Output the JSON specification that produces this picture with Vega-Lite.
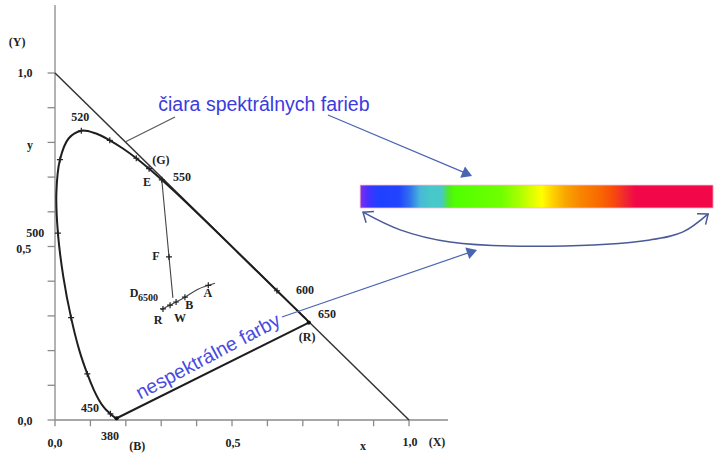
{
  "$schema": "https://vega.github.io/schema/vega-lite/v6.json",
  "width": 720,
  "height": 453,
  "autosize": {"type": "fit", "contains": "padding"},
  "padding": 0,
  "background": "white",
  "config": {"view": {"stroke": null}},
  "datasets": {
    "axisLines": [
      {"x": 0, "y": 0, "x2": 0, "y2": 1.196},
      {"x": 0, "y": 0, "x2": 1.11, "y2": 0},
      {"x": -0.021, "y": 0.1, "x2": 0, "y2": 0.1},
      {"x": -0.021, "y": 0.2, "x2": 0, "y2": 0.2},
      {"x": -0.021, "y": 0.3, "x2": 0, "y2": 0.3},
      {"x": -0.021, "y": 0.4, "x2": 0, "y2": 0.4},
      {"x": -0.021, "y": 0.5, "x2": 0, "y2": 0.5},
      {"x": -0.021, "y": 0.6, "x2": 0, "y2": 0.6},
      {"x": -0.021, "y": 0.7, "x2": 0, "y2": 0.7},
      {"x": -0.021, "y": 0.8, "x2": 0, "y2": 0.8},
      {"x": -0.021, "y": 0.9, "x2": 0, "y2": 0.9},
      {"x": -0.021, "y": 1.0, "x2": 0, "y2": 1.0},
      {"x": -0.021, "y": 0, "x2": 0, "y2": 0},
      {"x": 0, "y": 0, "x2": 0, "y2": -0.018},
      {"x": 0.1, "y": 0, "x2": 0.1, "y2": -0.018},
      {"x": 0.2, "y": 0, "x2": 0.2, "y2": -0.018},
      {"x": 0.3, "y": 0, "x2": 0.3, "y2": -0.018},
      {"x": 0.4, "y": 0, "x2": 0.4, "y2": -0.018},
      {"x": 0.5, "y": 0, "x2": 0.5, "y2": -0.018},
      {"x": 0.6, "y": 0, "x2": 0.6, "y2": -0.018},
      {"x": 0.7, "y": 0, "x2": 0.7, "y2": -0.018},
      {"x": 0.8, "y": 0, "x2": 0.8, "y2": -0.018},
      {"x": 0.9, "y": 0, "x2": 0.9, "y2": -0.018},
      {"x": 1.0, "y": 0, "x2": 1.0, "y2": -0.018}
    ],
    "locus": [
      {"nm": 380, "x": 0.1741, "y": 0.0050},
      {"nm": 400, "x": 0.1733, "y": 0.0048},
      {"nm": 420, "x": 0.1714, "y": 0.0051},
      {"nm": 430, "x": 0.1689, "y": 0.0069},
      {"nm": 440, "x": 0.1644, "y": 0.0109},
      {"nm": 450, "x": 0.1566, "y": 0.0177},
      {"nm": 460, "x": 0.1440, "y": 0.0297},
      {"nm": 465, "x": 0.1355, "y": 0.0399},
      {"nm": 470, "x": 0.1241, "y": 0.0578},
      {"nm": 475, "x": 0.1096, "y": 0.0868},
      {"nm": 480, "x": 0.0913, "y": 0.1327},
      {"nm": 485, "x": 0.0687, "y": 0.2007},
      {"nm": 490, "x": 0.0454, "y": 0.2950},
      {"nm": 495, "x": 0.0235, "y": 0.4127},
      {"nm": 500, "x": 0.0082, "y": 0.5384},
      {"nm": 505, "x": 0.0039, "y": 0.6548},
      {"nm": 510, "x": 0.0139, "y": 0.7502},
      {"nm": 515, "x": 0.0389, "y": 0.8120},
      {"nm": 520, "x": 0.0743, "y": 0.8338},
      {"nm": 525, "x": 0.1142, "y": 0.8262},
      {"nm": 530, "x": 0.1547, "y": 0.8059},
      {"nm": 535, "x": 0.1929, "y": 0.7816},
      {"nm": 540, "x": 0.2296, "y": 0.7543},
      {"nm": 545, "x": 0.2658, "y": 0.7243},
      {"nm": 550, "x": 0.3016, "y": 0.6923},
      {"nm": 555, "x": 0.3373, "y": 0.6589},
      {"nm": 560, "x": 0.3731, "y": 0.6245},
      {"nm": 570, "x": 0.4441, "y": 0.5547},
      {"nm": 580, "x": 0.5125, "y": 0.4866},
      {"nm": 590, "x": 0.5752, "y": 0.4242},
      {"nm": 600, "x": 0.6270, "y": 0.3725},
      {"nm": 610, "x": 0.6658, "y": 0.3340},
      {"nm": 620, "x": 0.6915, "y": 0.3083},
      {"nm": 630, "x": 0.7079, "y": 0.2920},
      {"nm": 640, "x": 0.7170, "y": 0.2809}
    ],
    "diag": [{"k": 0, "x": 0, "y": 1}, {"k": 1, "x": 1, "y": 0}],
    "purple": [{"k": 0, "x": 0.1741, "y": 0.005}, {"k": 1, "x": 0.717, "y": 0.2809}],
    "efd": [{"k": 0, "x": 0.3016, "y": 0.6923}, {"k": 1, "x": 0.322, "y": 0.47}, {"k": 2, "x": 0.333, "y": 0.352}],
    "planck": [
      {"k": 0, "x": 0.300, "y": 0.318},
      {"k": 1, "x": 0.325, "y": 0.331},
      {"k": 2, "x": 0.342, "y": 0.340},
      {"k": 3, "x": 0.367, "y": 0.354},
      {"k": 4, "x": 0.404, "y": 0.377},
      {"k": 5, "x": 0.452, "y": 0.394}
    ],
    "plus": [
      {"x": 0.1566, "y": 0.0177}, {"x": 0.0913, "y": 0.1327}, {"x": 0.0454, "y": 0.2950},
      {"x": 0.0082, "y": 0.5384}, {"x": 0.0139, "y": 0.7502}, {"x": 0.0743, "y": 0.8338},
      {"x": 0.1547, "y": 0.8059}, {"x": 0.2296, "y": 0.7543}, {"x": 0.2658, "y": 0.7243},
      {"x": 0.3016, "y": 0.6923}, {"x": 0.6270, "y": 0.3725},
      {"x": 0.322, "y": 0.47},
      {"x": 0.305, "y": 0.320}, {"x": 0.325, "y": 0.331}, {"x": 0.342, "y": 0.340},
      {"x": 0.367, "y": 0.354}, {"x": 0.433, "y": 0.388}
    ],
    "dots": [{"x": 0.717, "y": 0.2809}, {"x": 0.1741, "y": 0.005}],
    "pointer": [{"k": 0, "x": 0.198, "y": 0.801}, {"k": 1, "x": 0.339, "y": 0.873}],
    "arrows": [
      {"id": "a1", "k": 0, "x": 0.771, "y": 0.879},
      {"id": "a1", "k": 1, "x": 1.175, "y": 0.705},
      {"id": "a2", "k": 0, "x": 0.641, "y": 0.297},
      {"id": "a2", "k": 1, "x": 1.188, "y": 0.489}
    ],
    "head1": [{"x": 1.178, "y": 0.703}],
    "head2": [{"x": 1.192, "y": 0.490}],
    "curve": [
      {"k": 0, "x": 0.870, "y": 0.599},
      {"k": 1, "x": 0.975, "y": 0.548},
      {"k": 2, "x": 1.116, "y": 0.513},
      {"k": 3, "x": 1.398, "y": 0.501},
      {"k": 4, "x": 1.681, "y": 0.519},
      {"k": 5, "x": 1.774, "y": 0.542},
      {"k": 6, "x": 1.845, "y": 0.594}
    ],
    "chevL": [{"x": 0.870, "y": 0.599}],
    "chevR": [{"x": 1.845, "y": 0.594}],
    "bar": [{"x": 0.862, "x2": 1.859, "y": 0.677, "y2": 0.611}],
    "labels": [
      {"x": -0.107, "y": 1.089, "t": "(Y)"},
      {"x": -0.085, "y": 1.0, "t": "1,0"},
      {"x": -0.071, "y": 0.793, "t": "y"},
      {"x": -0.056, "y": 0.539, "t": "500"},
      {"x": -0.088, "y": 0.493, "t": "0,5"},
      {"x": -0.085, "y": -0.003, "t": "0,0"},
      {"x": 0.099, "y": 0.035, "t": "450"},
      {"x": 0.155, "y": -0.046, "t": "380"},
      {"x": 0.0, "y": -0.066, "t": "0,0"},
      {"x": 0.232, "y": -0.075, "t": "(B)"},
      {"x": 0.503, "y": -0.066, "t": "0,5"},
      {"x": 0.870, "y": -0.075, "t": "x"},
      {"x": 1.003, "y": -0.063, "t": "1,0"},
      {"x": 1.079, "y": -0.063, "t": "(X)"},
      {"x": 0.071, "y": 0.873, "t": "520"},
      {"x": 0.299, "y": 0.749, "t": "(G)"},
      {"x": 0.260, "y": 0.686, "t": "E"},
      {"x": 0.359, "y": 0.700, "t": "550"},
      {"x": 0.285, "y": 0.473, "t": "F"},
      {"x": 0.223, "y": 0.366, "t": "D"},
      {"x": 0.432, "y": 0.366, "t": "A"},
      {"x": 0.291, "y": 0.288, "t": "R"},
      {"x": 0.353, "y": 0.294, "t": "W"},
      {"x": 0.379, "y": 0.331, "t": "B"},
      {"x": 0.706, "y": 0.375, "t": "600"},
      {"x": 0.768, "y": 0.305, "t": "650"},
      {"x": 0.712, "y": 0.239, "t": "(R)"}
    ],
    "sub": [{"x": 0.263, "y": 0.352, "t": "6500"}],
    "blue1": [{"x": 0.590, "y": 0.908, "t": "čiara spektrálnych farieb"}],
    "blue2": [{"x": 0.433, "y": 0.182, "t": "nespektrálne farby"}]
  },
  "encoding": {
    "x": {"field": "x", "type": "quantitative", "axis": null, "scale": {"domain": [-0.1554, 1.8785], "nice": false, "zero": false}},
    "y": {"field": "y", "type": "quantitative", "axis": null, "scale": {"domain": [-0.0951, 1.2104], "nice": false, "zero": false}}
  },
  "layer": [
    {
      "data": {"name": "bar"},
      "mark": {"type": "rect", "stroke": "#f4b8c8", "strokeWidth": 0.8,
        "color": {"gradient": "linear", "x1": 0, "x2": 1, "y1": 0, "y2": 0, "stops": [
          {"offset": 0, "color": "#8a2be8"},
          {"offset": 0.02, "color": "#4a30ff"},
          {"offset": 0.05, "color": "#2040ff"},
          {"offset": 0.11, "color": "#2244ff"},
          {"offset": 0.14, "color": "#3070f0"},
          {"offset": 0.17, "color": "#48b8d8"},
          {"offset": 0.2, "color": "#48c8c8"},
          {"offset": 0.23, "color": "#48c8c8"},
          {"offset": 0.25, "color": "#50e828"},
          {"offset": 0.27, "color": "#50ff00"},
          {"offset": 0.4, "color": "#70ff00"},
          {"offset": 0.45, "color": "#a8ff00"},
          {"offset": 0.5, "color": "#eeff00"},
          {"offset": 0.515, "color": "#ffff00"},
          {"offset": 0.54, "color": "#ffd800"},
          {"offset": 0.58, "color": "#f8a800"},
          {"offset": 0.62, "color": "#f88800"},
          {"offset": 0.68, "color": "#f86800"},
          {"offset": 0.72, "color": "#f84810"},
          {"offset": 0.75, "color": "#f02830"},
          {"offset": 0.78, "color": "#f20848"},
          {"offset": 1, "color": "#f20848"}
        ]}},
      "encoding": {"x2": {"field": "x2"}, "y2": {"field": "y2"}}
    },
    {
      "data": {"name": "axisLines"},
      "mark": {"type": "rule", "color": "#8a8a8a", "strokeWidth": 1.3},
      "encoding": {"x2": {"field": "x2"}, "y2": {"field": "y2"}}
    },
    {
      "data": {"name": "diag"},
      "mark": {"type": "line", "color": "#333333", "strokeWidth": 1.5},
      "encoding": {"order": {"field": "k"}}
    },
    {
      "data": {"name": "pointer"},
      "mark": {"type": "line", "color": "#555555", "strokeWidth": 1.1},
      "encoding": {"order": {"field": "k"}}
    },
    {
      "data": {"name": "locus"},
      "mark": {"type": "line", "color": "#1e1e1e", "strokeWidth": 2, "interpolate": "catmull-rom"},
      "encoding": {"order": {"field": "nm"}}
    },
    {
      "data": {"name": "purple"},
      "mark": {"type": "line", "color": "#1e1e1e", "strokeWidth": 2},
      "encoding": {"order": {"field": "k"}}
    },
    {
      "data": {"name": "efd"},
      "mark": {"type": "line", "color": "#444444", "strokeWidth": 1.1},
      "encoding": {"order": {"field": "k"}}
    },
    {
      "data": {"name": "planck"},
      "mark": {"type": "line", "color": "#444444", "strokeWidth": 1.1, "interpolate": "catmull-rom"},
      "encoding": {"order": {"field": "k"}}
    },
    {
      "data": {"name": "plus"},
      "mark": {"type": "point", "shape": "M-1,0L1,0M0,-1L0,1", "size": 36, "filled": false, "stroke": "#222222", "strokeWidth": 1.2, "opacity": 1}
    },
    {
      "data": {"name": "dots"},
      "mark": {"type": "point", "shape": "circle", "size": 18, "filled": true, "color": "#111111", "opacity": 1}
    },
    {
      "data": {"name": "arrows"},
      "mark": {"type": "line", "color": "#4a64b4", "strokeWidth": 1.2},
      "encoding": {"detail": {"field": "id"}, "order": {"field": "k"}}
    },
    {
      "data": {"name": "head1"},
      "mark": {"type": "point", "shape": "M0,0L-1,-0.6L-1,0.6Z", "size": 420, "filled": true, "color": "#4a64b4", "opacity": 1, "angle": 23}
    },
    {
      "data": {"name": "head2"},
      "mark": {"type": "point", "shape": "M0,0L-1,-0.6L-1,0.6Z", "size": 420, "filled": true, "color": "#4a64b4", "opacity": 1, "angle": 341}
    },
    {
      "data": {"name": "curve"},
      "mark": {"type": "line", "color": "#4a5a98", "strokeWidth": 1.5, "interpolate": "catmull-rom"},
      "encoding": {"order": {"field": "k"}}
    },
    {
      "data": {"name": "chevL"},
      "mark": {"type": "point", "shape": "M-1,-0.8L0,0L-1,0.8", "size": 300, "filled": false, "stroke": "#4a5a98", "strokeWidth": 1.5, "opacity": 1, "angle": 215}
    },
    {
      "data": {"name": "chevR"},
      "mark": {"type": "point", "shape": "M-1,-0.8L0,0L-1,0.8", "size": 300, "filled": false, "stroke": "#4a5a98", "strokeWidth": 1.5, "opacity": 1, "angle": 322}
    },
    {
      "data": {"name": "labels"},
      "mark": {"type": "text", "font": "Liberation Serif", "fontSize": 12, "fontWeight": "bold", "color": "#222222", "align": "center", "baseline": "middle"},
      "encoding": {"text": {"field": "t"}}
    },
    {
      "data": {"name": "sub"},
      "mark": {"type": "text", "font": "Liberation Serif", "fontSize": 10, "fontWeight": "bold", "color": "#222222", "align": "center", "baseline": "middle"},
      "encoding": {"text": {"field": "t"}}
    },
    {
      "data": {"name": "blue1"},
      "mark": {"type": "text", "font": "Liberation Sans", "fontSize": 19.5, "color": "#3b3be0", "align": "center", "baseline": "middle"},
      "encoding": {"text": {"field": "t"}}
    },
    {
      "data": {"name": "blue2"},
      "mark": {"type": "text", "font": "Liberation Sans", "fontSize": 19.5, "color": "#4a4ae0", "align": "center", "baseline": "middle", "angle": 332},
      "encoding": {"text": {"field": "t"}}
    }
  ]
}
